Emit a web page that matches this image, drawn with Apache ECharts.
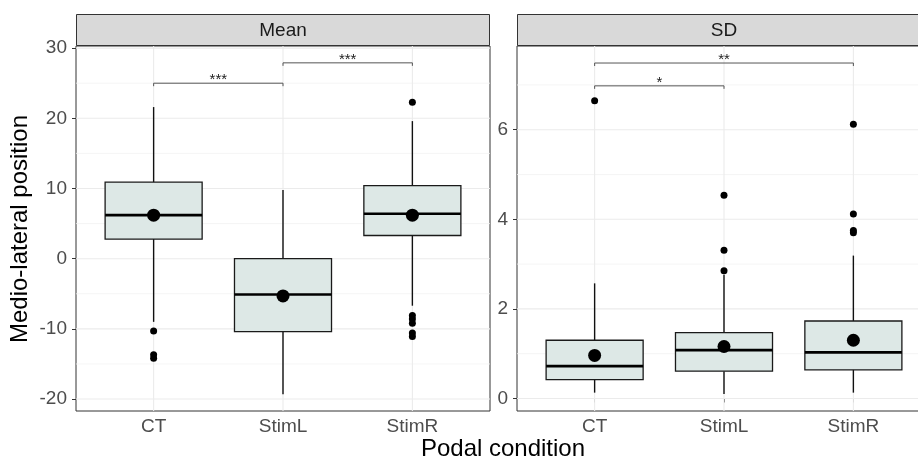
<!DOCTYPE html>
<html><head><meta charset="utf-8">
<script src="https://cdn.jsdelivr.net/npm/echarts@6/dist/echarts.min.js"></script>
<style>html,body{margin:0;padding:0;background:#fff;overflow:hidden;width:918px;height:461px}#c{width:936px;height:461px}</style>
</head><body><div id="c"></div><script>
// ---------- data ----------
const categories = ['CT', 'StimL', 'StimR'];
const panelTitles = ['Mean', 'SD'];
const yTitle = 'Medio-lateral position';
const xTitle = 'Podal condition';

// box stats: [lowWhisker, Q1, median, Q3, highWhisker]
const meanStats = [
  [-9.0, 2.8, 6.2, 10.9, 21.6],
  [-19.3, -10.4, -5.1, 0.0, 9.8],
  [-6.7, 3.3, 6.4, 10.4, 19.6]
];
const meanMeans = [6.2, -5.3, 6.2];
const meanOutliers = [
  [-10.3, -13.7, -14.2],
  [],
  [22.3, -8.1, -8.6, -9.2, -10.6, -11.1]
];
const meanBrackets = [[1, 2, 25.0], [2, 3, 27.9]];
const meanBracketLabels = ['***', '***'];
const meanTicks = [-20, -10, 0, 10, 20, 30];
const meanMinor = [-15, -5, 5, 15, 25];
const meanRange = [-21.7, 30.3];

const sdStats = [
  [0.13, 0.42, 0.72, 1.30, 2.57],
  [0.10, 0.61, 1.08, 1.47, 2.76],
  [0.13, 0.64, 1.03, 1.73, 3.19]
];
const sdMeans = [0.96, 1.16, 1.30];
const sdOutliers = [
  [6.65],
  [2.85, 3.31, 4.54],
  [3.70, 3.75, 4.12, 6.12]
];
const sdBrackets = [[1, 2, 6.98], [1, 3, 7.49]];
const sdBracketLabels = ['*', '**'];
const sdTicks = [0, 2, 4, 6];
const sdMinor = [1, 3, 5, 7];
const sdRange = [-0.28, 7.87];

// ---------- styling / layout ----------
const FONT = 'Liberation Sans, Arial, sans-serif';
const BOX_HALF = 0.375;
const PANEL_TOP = 46, PANEL_H = 365, PANEL_W = 414;
const PANEL_LEFTS = [76, 517];

const chart = echarts.init(document.getElementById('c'), null, {renderer: 'canvas'});

function gridRender(params, api) {
  const cs = params.coordSys;
  const kind = api.value(0), v = api.value(1);
  if (kind === 2) {
    const x = api.coord([v, api.value(2)])[0];
    return {type: 'line', shape: {x1: x, y1: cs.y, x2: x, y2: cs.y + cs.height},
      style: {stroke: '#ebebeb', lineWidth: 1.1}, silent: true};
  }
  const y = api.coord([1, v])[1];
  return {type: 'line', shape: {x1: cs.x, y1: y, x2: cs.x + cs.width, y2: y},
    style: {stroke: kind === 0 ? '#ebebeb' : '#f3f3f3', lineWidth: kind === 0 ? 1.1 : 0.8}, silent: true};
}

function boxRender(params, api) {
  const x = api.value(0);
  const c = v => api.coord([x, v]);
  const cx = c(api.value(1))[0];
  const yLow = c(api.value(1))[1], yQ1 = c(api.value(2))[1], yMed = c(api.value(3))[1],
        yQ3 = c(api.value(4))[1], yHigh = c(api.value(5))[1];
  const hw = api.coord([x + BOX_HALF, api.value(3)])[0] - cx;
  return {type: 'group', children: [
    {type: 'line', shape: {x1: cx, y1: yLow, x2: cx, y2: yQ1}, style: {stroke: '#111', lineWidth: 1.4}},
    {type: 'line', shape: {x1: cx, y1: yQ3, x2: cx, y2: yHigh}, style: {stroke: '#111', lineWidth: 1.4}},
    {type: 'rect', shape: {x: cx - hw, y: yQ3, width: 2 * hw, height: yQ1 - yQ3},
      style: {fill: '#dde8e6', stroke: '#1a1a1a', lineWidth: 1.3}},
    {type: 'line', shape: {x1: cx - hw, y1: yMed, x2: cx + hw, y2: yMed}, style: {stroke: '#000', lineWidth: 2.7}}
  ]};
}

function makeBracketRender(labels) {
  return function (params, api) {
    const y = api.value(2);
    const p1 = api.coord([api.value(0), y]), p2 = api.coord([api.value(1), y]);
    const tip = 3;
    return {type: 'group', children: [
      {type: 'polyline', shape: {points: [[p1[0], p1[1] + tip], [p1[0], p1[1]], [p2[0], p2[1]], [p2[0], p2[1] + tip]]},
        style: {stroke: '#555', lineWidth: 1, fill: null}},
      {type: 'text', x: (p1[0] + p2[0]) / 2, y: p1[1] - 3,
        style: {text: labels[params.dataIndex], font: '15px ' + FONT, fill: '#222',
          align: 'center', verticalAlign: 'middle', textAlign: 'center', textVerticalAlign: 'middle'}}
    ]};
  };
}

function gridData(ticks, minor, yMid) {
  const d = [];
  ticks.forEach(v => d.push([0, v, 0]));
  minor.forEach(v => d.push([1, v, 0]));
  categories.forEach((c, i) => d.push([2, i + 1, yMid]));
  return d;
}

function outlierData(outs) {
  const d = [];
  outs.forEach((arr, i) => arr.forEach(v => d.push([i + 1, v])));
  return d;
}

const panels = [
  {stats: meanStats, means: meanMeans, outs: meanOutliers, br: meanBrackets, brl: meanBracketLabels,
   ticks: meanTicks, minor: meanMinor, range: meanRange},
  {stats: sdStats, means: sdMeans, outs: sdOutliers, br: sdBrackets, brl: sdBracketLabels,
   ticks: sdTicks, minor: sdMinor, range: sdRange}
];

const grids = [], xAxes = [], yAxes = [], series = [], graphics = [];
panels.forEach((p, k) => {
  grids.push({left: PANEL_LEFTS[k], top: PANEL_TOP, width: PANEL_W, height: PANEL_H,
    show: true, borderColor: '#333', borderWidth: 1, backgroundColor: '#fff', containLabel: false});
  xAxes.push({type: 'value', gridIndex: k, min: 0.4, max: 3.6,
    axisLine: {show: false}, splitLine: {show: false},
    axisTick: {show: true, length: 4, lineStyle: {color: '#333', width: 1}, customValues: [1, 2, 3]},
    axisLabel: {show: true, customValues: [1, 2, 3], formatter: v => categories[Math.round(v) - 1] || '',
      color: '#4d4d4d', fontSize: 19, fontFamily: FONT, margin: 6}});
  yAxes.push({type: 'value', gridIndex: k, min: p.range[0], max: p.range[1],
    axisLine: {show: false}, splitLine: {show: false},
    axisTick: {show: true, length: 4, lineStyle: {color: '#333', width: 1}, customValues: p.ticks},
    axisLabel: {show: true, customValues: p.ticks, color: '#4d4d4d', fontSize: 19, fontFamily: FONT, margin: 9}});
  const yMid = (p.range[0] + p.range[1]) / 2;
  series.push({type: 'custom', xAxisIndex: k, yAxisIndex: k, z: 1, silent: true,
    renderItem: gridRender, data: gridData(p.ticks, p.minor, yMid)});
  series.push({type: 'custom', xAxisIndex: k, yAxisIndex: k, z: 2, silent: true,
    renderItem: boxRender, data: p.stats.map((s, i) => [i + 1].concat(s))});
  series.push({type: 'scatter', xAxisIndex: k, yAxisIndex: k, z: 3, silent: true,
    symbol: 'circle', symbolSize: 7, itemStyle: {color: '#000', opacity: 1}, data: outlierData(p.outs)});
  series.push({type: 'scatter', xAxisIndex: k, yAxisIndex: k, z: 4, silent: true,
    symbol: 'circle', symbolSize: 13, itemStyle: {color: '#000', opacity: 1}, data: p.means.map((m, i) => [i + 1, m])});
  series.push({type: 'custom', xAxisIndex: k, yAxisIndex: k, z: 3, silent: true,
    renderItem: makeBracketRender(p.brl), data: p.br});
  graphics.push({type: 'rect', shape: {x: PANEL_LEFTS[k] + 0.5, y: 14.5, width: PANEL_W - 1, height: 31},
    style: {fill: '#d9d9d9', stroke: '#333', lineWidth: 1}, silent: true});
  graphics.push({type: 'text', x: PANEL_LEFTS[k] + PANEL_W / 2, y: 31,
    style: {text: panelTitles[k], font: '19px ' + FONT, fill: '#1a1a1a',
      align: 'center', verticalAlign: 'middle', textAlign: 'center', textVerticalAlign: 'middle'}, silent: true});
});

graphics.push({type: 'text', x: 20, y: 229, rotation: Math.PI / 2,
  style: {text: yTitle, font: '24px ' + FONT, fill: '#000',
    align: 'center', verticalAlign: 'middle', textAlign: 'center', textVerticalAlign: 'middle'}, silent: true});
graphics.push({type: 'text', x: 503, y: 449,
  style: {text: xTitle, font: '24px ' + FONT, fill: '#000',
    align: 'center', verticalAlign: 'middle', textAlign: 'center', textVerticalAlign: 'middle'}, silent: true});

chart.setOption({
  animation: false,
  backgroundColor: '#fff',
  grid: grids,
  xAxis: xAxes,
  yAxis: yAxes,
  series: series,
  graphic: {elements: graphics}
});
</script></body></html>
